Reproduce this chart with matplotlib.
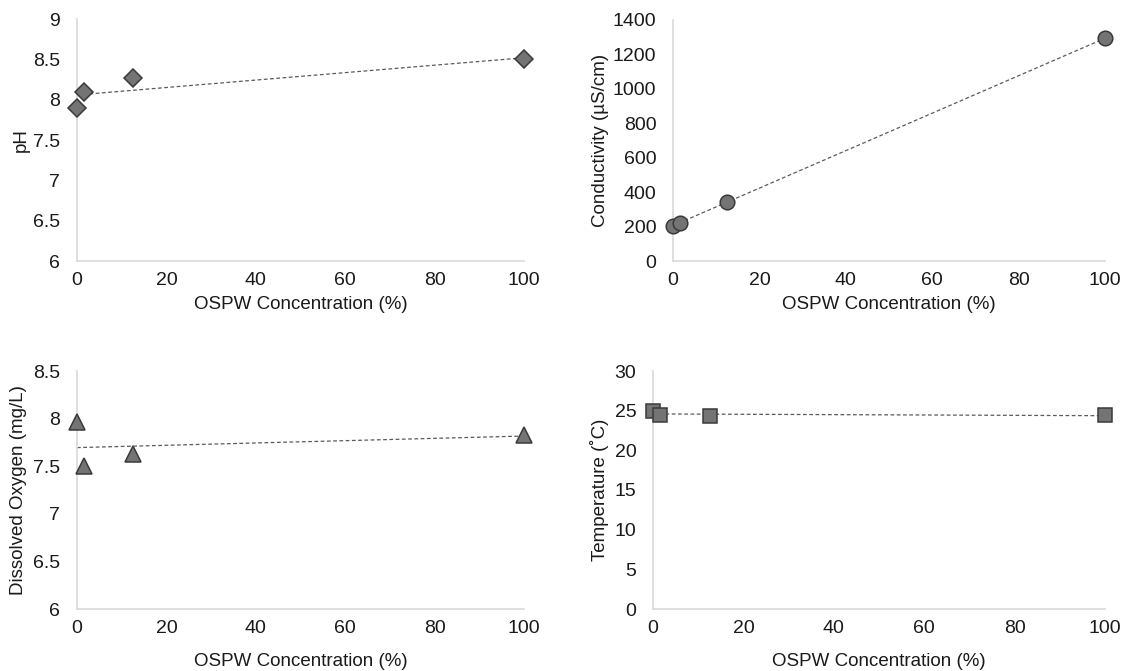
import numpy as np
import matplotlib
matplotlib.use("Agg")
import matplotlib.pyplot as plt

plt.rcParams['font.family'] = ['Liberation Sans', 'DejaVu Sans']

# OSPW concentration of each treatment (%)
concentration = [0, 1.56, 12.5, 100]

# Measured water quality parameters
ph = [7.90, 8.09, 8.27, 8.50]
conductivity = [206, 222, 342, 1294]
dissolved_oxygen = [7.96, 7.50, 7.63, 7.83]
temperature = [24.9, 24.5, 24.3, 24.4]

x_ticks = [0, 20, 40, 60, 80, 100]
ph_ticks = [6, 6.5, 7, 7.5, 8, 8.5, 9]
cond_ticks = [0, 200, 400, 600, 800, 1000, 1200, 1400]
do_ticks = [6, 6.5, 7, 7.5, 8, 8.5]
temp_ticks = [0, 5, 10, 15, 20, 25, 30]

FS = 13.5
TICK_FS = 14
FACE = '#747474'
EDGE = '#3a3a3a'
SPINE = '#d9d9d9'
TEXT = '#1a1a1a'

fig = plt.figure(figsize=(11.25, 6.71), dpi=100)
W, H = 1125, 671


def px_axes(left, right, top, bottom):
    return fig.add_axes([left / W, 1 - bottom / H, (right - left) / W, (bottom - top) / H])


panels = [
    (px_axes(77, 524, 19, 261), ph, ph_ticks, 'pH', 'D', 9, -0.105, -0.145),
    (px_axes(673, 1105, 20, 261), conductivity, cond_ticks, 'Conductivity (µS/cm)', 'o', 10.5, -0.148, -0.145),
    (px_axes(77, 524, 371, 609), dissolved_oxygen, do_ticks, 'Dissolved Oxygen (mg/L)', '^', 11, -0.112, -0.185),
    (px_axes(653, 1105, 371, 609), temperature, temp_ticks, 'Temperature (˚C)', 's', 10, -0.097, -0.185),
]

xs = np.array(concentration, dtype=float)
xfit = np.array([0.0, 100.0])

for ax, vals, yt, ylabel, marker, ms, ylx, xly in panels:
    # linear trend line through the four measurements
    slope, intercept = np.polyfit(xs, np.array(vals, dtype=float), 1)
    ax.plot(xfit, slope * xfit + intercept, linestyle=(0, (3, 2)), color='#5a5a5a',
            linewidth=0.9, zorder=2)
    ax.plot(xs, vals, linestyle='none', marker=marker, markersize=ms,
            markerfacecolor=FACE, markeredgecolor=EDGE, markeredgewidth=1.1,
            clip_on=False, zorder=3)
    ax.set_xlim(0, 100)
    ax.set_ylim(yt[0], yt[-1])
    ax.set_xticks(x_ticks)
    ax.set_yticks(yt)
    ax.set_yticklabels([f'{t:g}' for t in yt])
    ax.tick_params(length=0, labelsize=TICK_FS, colors=TEXT)
    ax.tick_params(axis='x', pad=8)
    ax.tick_params(axis='y', pad=12)
    for s in ('top', 'right'):
        ax.spines[s].set_visible(False)
    for s in ('left', 'bottom'):
        ax.spines[s].set_color(SPINE)
        ax.spines[s].set_linewidth(1.2)
    ax.set_xlabel('OSPW Concentration (%)', fontsize=FS, color=TEXT)
    ax.set_ylabel(ylabel, fontsize=FS, color=TEXT)
    ax.yaxis.set_label_coords(ylx, 0.5)
    ax.xaxis.set_label_coords(0.5, xly)

fig.savefig('out.png', dpi=100, facecolor='white')
